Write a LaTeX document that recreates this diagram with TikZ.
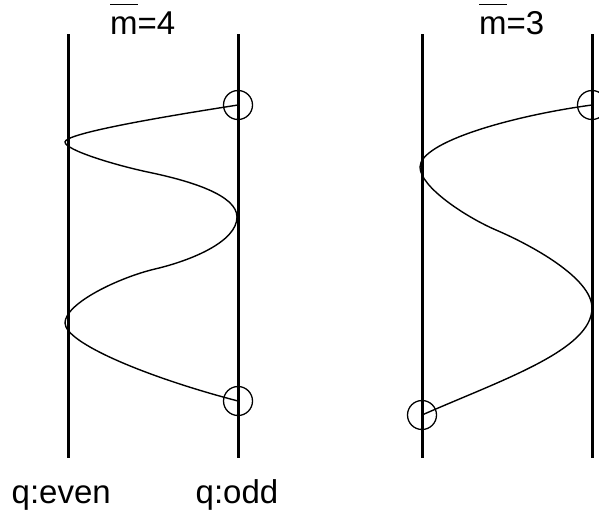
\documentclass[tikz,border=0pt]{standalone}
\usepackage{fontspec}
\setmainfont{Liberation Sans}
\usetikzlibrary{positioning}
% bar over a letter, set high above it
\newcommand\mbar[1]{\setbox0\hbox{#1}\rlap{\raisebox{0.88em}{\rule{\wd0}{1.4pt}}}\box0}

\begin{document}
\begin{tikzpicture}[x=1pt, y=-1pt,
    every node/.style={font=\fontsize{33}{40}\selectfont, inner sep=0pt},
    wall/.style={line width=3pt},
    traj/.style={line width=1.4pt},
    site/.style={draw, circle, line width=1.3pt, minimum size=29pt}]
\useasboundingbox (0,0) rectangle (599,512);

% m = 4
\coordinate (evtop) at (68,34);   \coordinate (evbot) at (68,458);
\coordinate (odtop) at (238,34);  \coordinate (odbot) at (238,458);
\draw[wall] (evtop) -- (evbot);
\draw[wall] (odtop) -- (odbot);
\node[site] (fa) at (238,105) {};
\node[site] (fb) at (238,401) {};
\coordinate (fl1) at (65,142);
\coordinate (fr1) at (237,217);
\coordinate (fl2) at (65,323);
\draw[traj] (fa.center) .. controls (148,119) and (65,134) .. (fl1)
    .. controls (65,150) and (115,165.2) .. (150,172.5)
    .. controls (190,180.9) and (237,195) .. (fr1)
    .. controls (237,242) and (190,260.8) .. (155,269)
    .. controls (120,277.2) and (65,303) .. (fl2)
    .. controls (65,343) and (148,377.6) .. (fb.center);
\node[anchor=base west] (mfour) at (110,34) {\mbar{m}=4};
\node[anchor=base west] (qeven) at (11.5,503) {q:even};
\node[anchor=base west] (qodd) at (195.5,503) {q:odd};

% m = 3
\coordinate (lftop) at (422,34);  \coordinate (lfbot) at (422,458);
\coordinate (rttop) at (592,34);  \coordinate (rtbot) at (592,458);
\draw[wall] (lftop) -- (lfbot);
\draw[wall] (rttop) -- (rtbot);
\node[site] (ta) at (592,105) {};
\node[site] (tb) at (422,415) {};
\coordinate (tl1) at (420,167);
\coordinate (tr1) at (592,308);
\draw[traj] (ta.center) .. controls (512,115.8) and (420,142) .. (tl1)
    .. controls (420,187) and (466,217.1) .. (496,230)
    .. controls (531,245) and (592,278) .. (tr1)
    .. controls (592,350) and (502,379.8) .. (tb.center);
\node[anchor=base west] (mthree) at (479,34) {\mbar{m}=3};
\end{tikzpicture}
\end{document}
